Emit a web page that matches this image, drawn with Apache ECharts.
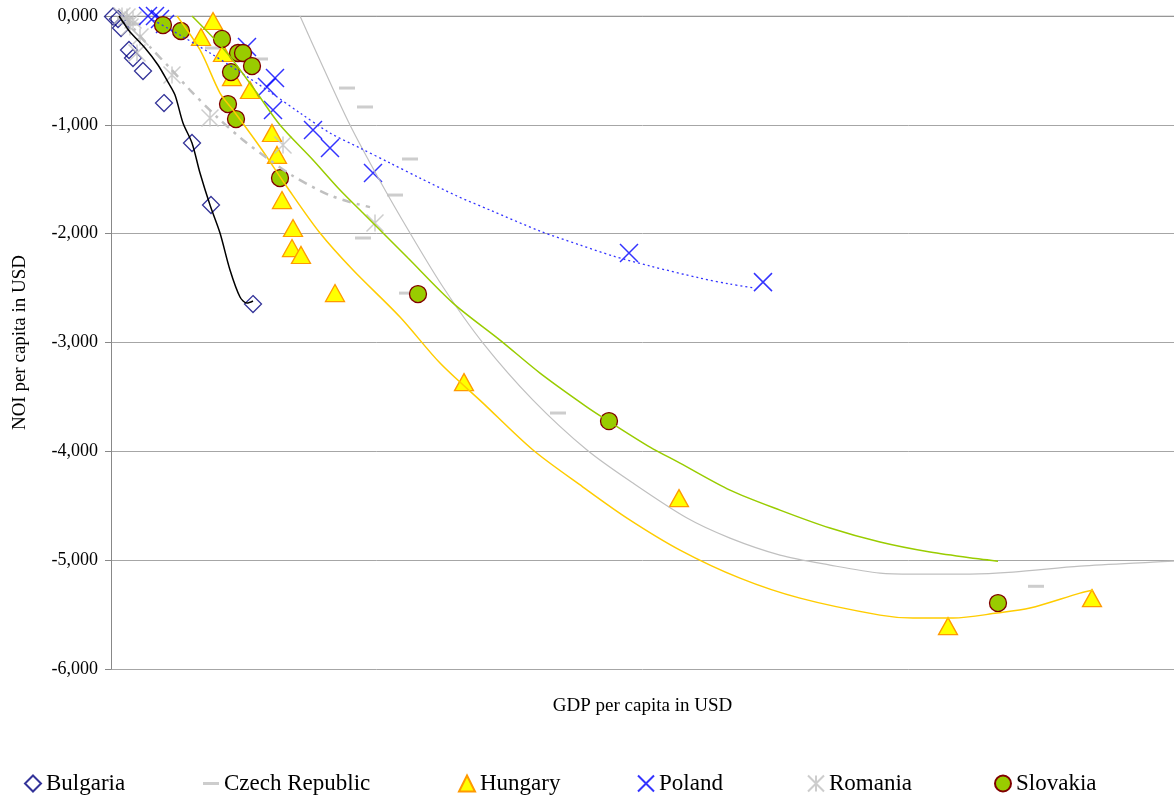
<!DOCTYPE html>
<html>
<head>
<meta charset="utf-8">
<script src="https://cdn.jsdelivr.net/npm/echarts@6/dist/echarts.min.js"></script>
<style>
html,body{margin:0;padding:0;background:#fff;}
#chart{width:1174px;height:796px;}
</style>
</head>
<body>
<div id="chart"></div>
<script>
// ---- data (GDP per capita, NOI per capita) ----
const bulgaria = [[40,-5],[140,-28],[200,-110],[360,-312],[440,-386],[640,-505],[1060,-800],[1620,-1167],[2000,-1737],[2840,-2647]];
const bulgariaTrend = [[160,0],[280,-83],[380,-147],[680,-294],[940,-450],[1140,-607],[1280,-726],[1440,-983],[1620,-1167],[1780,-1443],[1980,-1737],[2180,-1994],[2380,-2334],[2580,-2582],[2720,-2638],[2840,-2619]];

const czech = [[280,-18],[440,-74],[2040,-294],[2980,-395],[4720,-662],[5080,-836],[5980,-1314],[5680,-1645],[5040,-2040],[5920,-2546],[8940,-3648],[18500,-5240]];
const czechTrend = [[3780,0],[4240,-469],[4780,-1002],[5380,-1516],[5980,-1994],[6640,-2490],[7440,-3005],[8440,-3529],[9520,-3988],[10440,-4292],[11520,-4613],[12380,-4797],[13380,-4953],[14380,-5045],[15380,-5119],[16040,-5128],[17180,-5128],[18040,-5110],[19380,-5055],[20840,-5018],[21260,-5009]];

const hungary = [[2040,-46],[1800,-193],[2240,-340],[2420,-561],[2780,-680],[3220,-1075],[3320,-1277],[3420,-1691],[3640,-1948],[3620,-2132],[3800,-2196],[4480,-2546],[7060,-3364],[11360,-4430],[16740,-5606],[19620,-5349]];
const hungaryTrend = [[1320,0],[1780,-312],[2180,-708],[2440,-864],[2980,-1204],[3520,-1571],[4180,-1994],[4840,-2334],[5780,-2766],[6580,-3189],[7440,-3557],[8440,-3988],[9440,-4328],[10320,-4613],[11380,-4907],[12580,-5165],[13780,-5349],[15380,-5505],[16040,-5532],[16840,-5532],[17720,-5486],[18380,-5440],[19380,-5303],[19640,-5275]];

const poland = [[740,0],[880,0],[980,-28],[1080,-74],[2720,-285],[3280,-570],[3120,-652],[3240,-864],[4040,-1048],[4380,-1213],[5240,-1443],[10360,-2178],[13040,-2445]];
const polandTrend = [[840,-37],[1380,-175],[1980,-340],[2580,-515],[3180,-699],[3780,-891],[4380,-1075],[4980,-1213],[5580,-1351],[6180,-1489],[6920,-1654],[7580,-1783],[8580,-1976],[9380,-2104],[10040,-2205],[10780,-2297],[11780,-2408],[12380,-2463],[12880,-2500]];

const romania = [[220,0],[320,-9],[440,-37],[380,-101],[580,-193],[520,-340],[1220,-542],[1980,-937],[3440,-1185],[5280,-1902]];
const romaniaTrend = [[280,0],[480,-129],[780,-285],[1180,-478],[1580,-680],[2120,-928],[2640,-1139],[3120,-1305],[3640,-1470],[4320,-1636],[4780,-1710],[5180,-1756]];

const slovakia = [[1040,-83],[1400,-138],[2220,-211],[2540,-340],[2640,-340],[2820,-460],[2400,-515],[2340,-809],[2500,-947],[3380,-1489],[6140,-2555],[9960,-3722],[17740,-5394]];
const slovakiaTrend = [[1620,0],[2320,-340],[2920,-708],[3380,-1002],[4040,-1323],[4580,-1599],[5040,-1810],[5580,-2058],[5940,-2224],[6840,-2638],[7780,-2978],[8580,-3281],[9520,-3593],[9980,-3731],[10780,-3961],[11380,-4108],[12380,-4356],[13380,-4540],[14380,-4705],[15380,-4834],[16380,-4926],[17380,-4990],[17740,-5009]];

const yTicks = [0,-1000,-2000,-3000,-4000,-5000,-6000];
const countries = ['Bulgaria','Czech Republic','Hungary','Poland','Romania','Slovakia'];

// ---- chart ----
const FONT = '"Liberation Serif","Times New Roman",serif';
const X_PATH = 'path://M0,0L20,20M20,0L0,20';
const STAR_PATH = 'path://M0,0L20,20M20,0L0,20M10,0L10,20';

const chart = echarts.init(document.getElementById('chart'));

function trend(name, data, color, width, type, z){
  return {name:name, type:'line', data:data, showSymbol:false, symbol:'none', smooth:0.3,
    lineStyle:{color:color, width:width, type:type}, silent:true, z:z, animation:false};
}

const legendLeft = [24, 203, 458, 637, 807, 994];
const legendH = [16, 3, 16, 16, 16, 16];

const option = {
  backgroundColor:'#ffffff',
  animation:false,
  grid:{left:111, top:16, right:0, bottom:127, containLabel:false},
  xAxis:{
    type:'value', min:0, max:21260, position:'bottom',
    name:'GDP per capita in USD', nameLocation:'middle', nameGap:28,
    nameTextStyle:{fontFamily:FONT, fontSize:19, color:'#000'},
    axisLine:{show:false}, axisTick:{show:false}, axisLabel:{show:false}, splitLine:{show:false}
  },
  yAxis:{
    type:'value', min:-6000, max:0, interval:1000,
    name:'NOI per capita in USD', nameLocation:'middle', nameGap:81, nameRotate:90,
    nameTextStyle:{fontFamily:FONT, fontSize:19, color:'#000'},
    axisLine:{show:true, onZero:false, lineStyle:{color:'#888888', width:1}},
    axisTick:{show:true, length:6, lineStyle:{color:'#888888'}},
    axisLabel:{fontFamily:FONT, fontSize:18, color:'#000', margin:13,
      formatter:function(v){ return v===0 ? '0,000' : (v/1000)+',000'; }},
    splitLine:{show:true, lineStyle:{color:'#a6a6a6', width:1}}
  },
  legend: countries.map(function(c,i){
    return {data:[c], left:legendLeft[i], top:772, padding:0,
      itemWidth:16, itemHeight:legendH[i], itemGap:0, selectedMode:false,
      textStyle:{fontFamily:FONT, fontSize:23, color:'#000'}};
  }),
  series:[
    {name:'Bulgaria', type:'scatter', data:bulgaria, symbol:'diamond', symbolSize:17, z:3,
      itemStyle:{color:'rgba(0,0,0,0)', borderColor:'#000080', borderWidth:1.3}},
    {name:'Czech Republic', type:'scatter', data:czech, symbol:'rect', symbolSize:[16,3], z:3,
      itemStyle:{color:'#c0c0c0', borderWidth:0}},
    {name:'Hungary', type:'scatter', data:hungary, symbol:'triangle', symbolSize:[19,17], z:3,
      itemStyle:{color:'#ffff00', borderColor:'#ff9900', borderWidth:1.3, opacity:1}},
    {name:'Poland', type:'scatter', data:poland, symbol:X_PATH, symbolSize:18, z:3,
      itemStyle:{color:'rgba(0,0,0,0)', borderColor:'#0000ff', borderWidth:1.5}},
    {name:'Romania', type:'scatter', data:romania, symbol:STAR_PATH, symbolSize:17, z:3,
      itemStyle:{color:'rgba(0,0,0,0)', borderColor:'#c0c0c0', borderWidth:1.5}},
    {name:'Slovakia', type:'scatter', data:slovakia, symbol:'circle', symbolSize:17, z:3,
      itemStyle:{color:'#99cc00', borderColor:'#800000', borderWidth:1.3, opacity:1}},
    trend('Bulgaria trend', bulgariaTrend, '#000000', 1.5, 'solid', 4),
    trend('Czech trend', czechTrend, '#c0c0c0', 1.2, 'solid', 4),
    trend('Hungary trend', hungaryTrend, '#ffcc00', 1.5, 'solid', 4),
    trend('Poland trend', polandTrend, '#3333ff', 1.3, [2,3], 4),
    trend('Romania trend', romaniaTrend, '#c0c0c0', 2.5, [9,6,3,6], 4),
    trend('Slovakia trend', slovakiaTrend, '#99cc00', 1.5, 'solid', 4),
    {name:'zero line', type:'line', data:[[0,0],[21260,0]], showSymbol:false, symbol:'none',
      lineStyle:{color:'#888888', width:1.2}, silent:true, z:2}
  ]
};
chart.setOption(option);
</script>
</body>
</html>
